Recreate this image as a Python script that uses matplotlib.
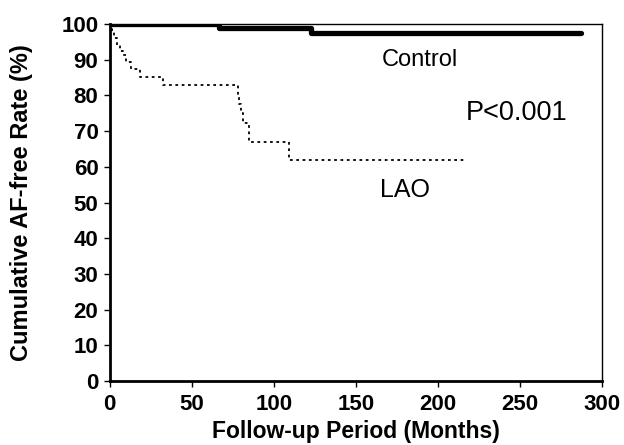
import numpy as np
import matplotlib.pyplot as plt

plt.rcParams['font.family'] = ['Liberation Sans', 'DejaVu Sans']

# Kaplan-Meier curves (months, % AF-free)
control_t = [0, 66.5, 122.5, 287]
control_s = [100, 99, 97.5, 97.5]

lao_t = [0, 1.5, 3, 4.5, 6.5, 8, 10, 13, 18.5, 32.5, 78, 79, 80, 81, 85, 109.5, 217]
lao_s = [100, 97.8, 96, 94.1, 92.5, 91.3, 89.4, 87.4, 85.2, 83, 80, 77.5, 75, 72.3, 67, 61.9, 61.9]

xticks = [0, 50, 100, 150, 200, 250, 300]
yticks = list(range(0, 101, 10))

fig = plt.figure(figsize=(6.24, 4.45), dpi=100)
ax = fig.add_axes([0.1755, 0.1438, 0.7895, 0.8022])

ax.step(control_t, control_s, where='post', color='black', lw=3.8, solid_capstyle='round')
ax.step(lao_t, lao_s, where='post', color='black', lw=1.3, linestyle=(0, (1.5, 2.0)))

ax.text(189, 90, 'Control', fontsize=17, ha='center', va='center')
ax.text(248, 75, 'P<0.001', fontsize=19.5, ha='center', va='center')
ax.text(180, 53.5, 'LAO', fontsize=18, ha='center', va='center')

ax.set_xlim(0, 300)
ax.set_ylim(0, 100)
ax.set_xticks(xticks)
ax.set_yticks(yticks)
ax.tick_params(direction='out', length=4, width=1, labelsize=16)
for lab in ax.get_xticklabels() + ax.get_yticklabels():
    lab.set_fontweight('bold')
ax.tick_params(axis='x', pad=5)
ax.tick_params(axis='y', pad=4)

ax.set_xlabel('Follow-up Period (Months)', fontsize=16.5, fontweight='bold', labelpad=4)
ax.set_ylabel('Cumulative AF-free Rate (%)', fontsize=17, fontweight='bold', labelpad=20)

ax.spines['left'].set_linewidth(2)
ax.spines['bottom'].set_linewidth(2)
ax.spines['top'].set_linewidth(1)
ax.spines['right'].set_linewidth(1)

fig.savefig('out.png', dpi=100)
